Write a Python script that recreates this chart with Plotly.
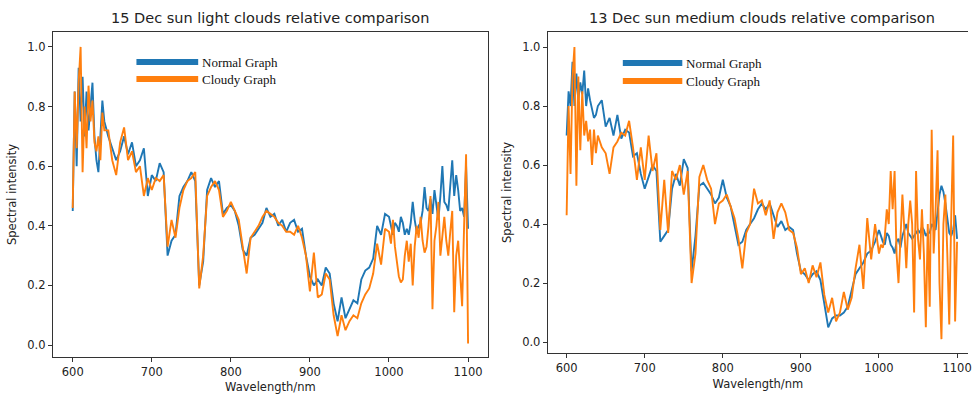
import plotly.graph_objects as go

# wavelength grid: 2.5 nm to 640, 5 nm steps to 995, 2.5 nm steps from 1000 to 1100
wl_start = [600 + 2.5 * i for i in range(17)]
wl_mid = list(range(645, 1000, 5))
wl_end = [1000 + 2.5 * i for i in range(41)]
wavelength = wl_start + wl_mid + wl_end

# ---- Left panel: 15 Dec sun light clouds ----
left_normal = [
    0.45, 0.85, 0.60, 0.93, 0.75, 0.90, 0.70, 0.85, 0.72, 0.80,
    0.88, 0.70, 0.62, 0.58, 0.72, 0.82, 0.75,
    0.70,
    0.66, 0.62, 0.65, 0.70, 0.64, 0.68, 0.60, 0.62, 0.66, 0.50,
    0.57, 0.55, 0.61, 0.58, 0.30, 0.35, 0.37, 0.50, 0.53, 0.55,
    0.58, 0.55, 0.20, 0.28, 0.52, 0.56, 0.53, 0.55, 0.44, 0.46,
    0.47, 0.45, 0.40, 0.32, 0.30, 0.36, 0.37, 0.39, 0.41, 0.46,
    0.43, 0.44, 0.40, 0.42, 0.38, 0.41, 0.42, 0.38, 0.39, 0.30,
    0.23, 0.20, 0.22, 0.20, 0.26, 0.24, 0.14, 0.08, 0.16, 0.09,
    0.12, 0.15, 0.14, 0.22, 0.25, 0.26, 0.29, 0.40, 0.37, 0.44,
    0.43, 0.40, 0.37, 0.41, 0.40, 0.38, 0.43, 0.41, 0.37, 0.39,
    0.37, 0.41, 0.48, 0.42, 0.38, 0.40, 0.41, 0.45, 0.53, 0.46,
    0.45, 0.49, 0.44, 0.52, 0.47, 0.42, 0.50, 0.60, 0.48, 0.47,
    0.45, 0.55, 0.62, 0.50, 0.57, 0.52, 0.45, 0.46, 0.43, 0.60,
    0.39,
]
left_cloudy = [
    0.46, 0.85, 0.66, 0.88, 1.00, 0.58, 0.80, 0.66, 0.87, 0.75,
    0.82, 0.68, 0.65, 0.70, 0.62, 0.78, 0.72,
    0.72,
    0.62, 0.57, 0.68, 0.73, 0.62, 0.65, 0.58, 0.60, 0.50, 0.56,
    0.52, 0.56, 0.55, 0.57, 0.33, 0.42, 0.36, 0.46, 0.52, 0.55,
    0.56, 0.58, 0.19, 0.30, 0.50, 0.53, 0.55, 0.52, 0.43, 0.45,
    0.48, 0.45, 0.42, 0.33, 0.24, 0.36, 0.38, 0.40, 0.43, 0.45,
    0.44, 0.43, 0.41, 0.40, 0.38, 0.38, 0.37, 0.40, 0.36, 0.30,
    0.18, 0.31, 0.16, 0.17, 0.24, 0.22, 0.10, 0.03, 0.10, 0.05,
    0.08, 0.10, 0.09, 0.14, 0.17, 0.19, 0.24, 0.34, 0.27, 0.39,
    0.38, 0.34, 0.42, 0.33, 0.28, 0.23, 0.21, 0.22, 0.30, 0.35,
    0.28, 0.34, 0.20, 0.33, 0.40, 0.36, 0.43, 0.35, 0.31, 0.33,
    0.40, 0.50, 0.12, 0.35, 0.40, 0.48, 0.30, 0.38, 0.43, 0.35,
    0.30, 0.38, 0.45, 0.11, 0.30, 0.35, 0.25, 0.13, 0.40, 0.64,
    0.005,
]

# ---- Right panel: 13 Dec sun medium clouds ----
right_normal = [
    0.70, 0.85, 0.80, 0.95, 0.80, 0.91, 0.82, 0.88, 0.84, 0.92,
    0.80, 0.86, 0.82, 0.79, 0.76, 0.77, 0.80,
    0.82,
    0.73, 0.76, 0.70, 0.77, 0.69, 0.72, 0.71, 0.63, 0.64, 0.57,
    0.52, 0.56, 0.60, 0.58, 0.34, 0.36, 0.38, 0.52, 0.57, 0.53,
    0.62, 0.59, 0.24, 0.36, 0.53, 0.54, 0.52, 0.50, 0.47, 0.49,
    0.55, 0.49, 0.46, 0.40, 0.33, 0.34, 0.38, 0.40, 0.42, 0.45,
    0.47, 0.45, 0.47, 0.43, 0.39, 0.41, 0.38, 0.39, 0.38, 0.30,
    0.24, 0.23, 0.21, 0.23, 0.24, 0.21, 0.13, 0.05, 0.08, 0.09,
    0.09, 0.10, 0.12, 0.17, 0.23, 0.25, 0.27, 0.30, 0.31, 0.34,
    0.38, 0.36, 0.34, 0.33, 0.37, 0.36, 0.33, 0.32, 0.30, 0.34,
    0.35, 0.32, 0.36, 0.38, 0.40, 0.37, 0.36, 0.35, 0.36, 0.37,
    0.38, 0.37, 0.39, 0.38, 0.36, 0.37, 0.37, 0.40, 0.39, 0.38,
    0.44, 0.50, 0.53, 0.51, 0.47, 0.42, 0.37, 0.36, 0.38, 0.43,
    0.35,
]
right_cloudy = [
    0.43, 0.80, 0.57, 0.90, 1.00, 0.53, 0.90, 0.65, 0.85, 0.70,
    0.75, 0.68, 0.72, 0.60, 0.72, 0.64, 0.70,
    0.66,
    0.64, 0.57, 0.66, 0.68, 0.71, 0.70, 0.75, 0.66, 0.55, 0.66,
    0.55, 0.70, 0.58, 0.64, 0.38, 0.55, 0.37, 0.58, 0.55, 0.60,
    0.50, 0.58, 0.20, 0.30, 0.56, 0.60, 0.55, 0.52, 0.40, 0.47,
    0.48, 0.50, 0.46, 0.42, 0.35, 0.25, 0.37, 0.40, 0.52, 0.47,
    0.48, 0.43, 0.48, 0.35, 0.44, 0.47, 0.44, 0.38, 0.37, 0.32,
    0.23, 0.25, 0.20, 0.26, 0.22, 0.27, 0.16, 0.10, 0.15, 0.07,
    0.10, 0.17, 0.11, 0.15, 0.25, 0.33, 0.18, 0.42, 0.28, 0.40,
    0.30, 0.33, 0.32, 0.36, 0.45, 0.40, 0.58, 0.45, 0.58, 0.30,
    0.20, 0.35, 0.50, 0.38, 0.25, 0.40, 0.48, 0.40, 0.10, 0.58,
    0.35, 0.28, 0.45, 0.30, 0.05, 0.40, 0.12, 0.72, 0.30, 0.45,
    0.65, 0.20, 0.01, 0.40, 0.50, 0.30, 0.06, 0.42, 0.70, 0.07,
    0.34,
]

titles = ["15 Dec sun light clouds relative comparison",
          "13 Dec sun medium clouds relative comparison"]
series_names = ["Normal Graph", "Cloudy Graph"]
x_ticks = [600, 700, 800, 900, 1000, 1100]
y_ticks = [0.0, 0.2, 0.4, 0.6, 0.8, 1.0]

BLUE = "#1f77b4"
ORANGE = "#ff7f0e"
W, H = 972, 394
LW = 1.9

fig = go.Figure()
fig.add_trace(go.Scatter(x=wavelength, y=left_normal, mode="lines", name=series_names[0],
                         line=dict(color=BLUE, width=LW), xaxis="x", yaxis="y", showlegend=False))
fig.add_trace(go.Scatter(x=wavelength, y=left_cloudy, mode="lines", name=series_names[1],
                         line=dict(color=ORANGE, width=LW), xaxis="x", yaxis="y", showlegend=False))
fig.add_trace(go.Scatter(x=wavelength, y=right_normal, mode="lines", name=series_names[0],
                         line=dict(color=BLUE, width=LW), xaxis="x2", yaxis="y2", showlegend=False))
fig.add_trace(go.Scatter(x=wavelength, y=right_cloudy, mode="lines", name=series_names[1],
                         line=dict(color=ORANGE, width=LW), xaxis="x2", yaxis="y2", showlegend=False))

tickfont = dict(family="DejaVu Sans", size=11.5, color="#222")
titlefont = dict(family="DejaVu Sans", size=11.5, color="#222")

def xaxis(domain, rng, anchor, mirror, standoff):
    return dict(domain=domain, range=rng, anchor=anchor, tickvals=x_ticks,
                showgrid=False, zeroline=False, showline=True, linecolor="#333",
                linewidth=1, mirror=mirror, ticks="outside", ticklen=4, tickwidth=1,
                tickcolor="#333", tickfont=tickfont, ticklabeloverflow="allow",
                title=dict(text="Wavelength/nm", font=titlefont, standoff=standoff))

def yaxis(domain, rng, anchor, mirror):
    return dict(domain=domain, range=rng, anchor=anchor, tickvals=y_ticks,
                tickformat=".1f", showgrid=False, zeroline=False, showline=True,
                linecolor="#333", linewidth=1, mirror=mirror, ticks="outside",
                ticklen=4, tickwidth=1, tickcolor="#333", tickfont=tickfont,
                title=dict(text="Spectral intensity", font=titlefont, standoff=8))

fig.update_layout(
    width=W, height=H, margin=dict(l=0, r=0, t=0, b=0),
    paper_bgcolor="white", plot_bgcolor="white",
    xaxis=xaxis([53 / W, 490 / W], [574.8, 1125.2], "y", True, 6),
    yaxis=yaxis([(H - 357) / H, (H - 32) / H], [-0.040, 1.050], "x", True),
    xaxis2=xaxis([550 / W, 1.0], [575.8, 1114.0], "y2", True, 6),
    yaxis2=yaxis([(H - 353) / H, (H - 32) / H], [-0.037, 1.051], "x2", False),
)

# subplot titles
for txt, cx in zip(titles, [271.5, 765.5]):
    fig.add_annotation(text=txt, xref="paper", yref="paper", x=cx / W, y=(H - 18) / H,
                       showarrow=False, font=dict(family="DejaVu Sans", size=14.5, color="#222"),
                       xanchor="center", yanchor="middle")

# legends (thick line swatches + serif labels), placed in axes-domain coordinates
legend_specs = [
    ("x", "y", 53, 490, 32, 357, [(137, 199, 62), (137, 199, 79)]),
    ("x2", "y2", 550, 981, 32, 353, [(627, 688, 63), (627, 688, 81)]),
]
colors = [BLUE, ORANGE]
for xr, yr, x0, x1, y0, y1, rows in legend_specs:
    for (a, b, yy), col, name in zip(rows, colors, series_names):
        fx0 = (a - x0) / (x1 - x0)
        fx1 = (b - x0) / (x1 - x0)
        fy = (y1 - yy) / (y1 - y0)
        fig.add_shape(type="line", xref=f"{xr} domain", yref=f"{yr} domain",
                      x0=fx0, x1=fx1, y0=fy, y1=fy, line=dict(color=col, width=6))
        fig.add_annotation(text=name, xref=f"{xr} domain", yref=f"{yr} domain",
                           x=fx1 + 1.5 / (x1 - x0), y=fy, showarrow=False, xanchor="left",
                           yanchor="middle", font=dict(family="Liberation Serif", size=13, color="#111"))

fig.write_html("out.html")
